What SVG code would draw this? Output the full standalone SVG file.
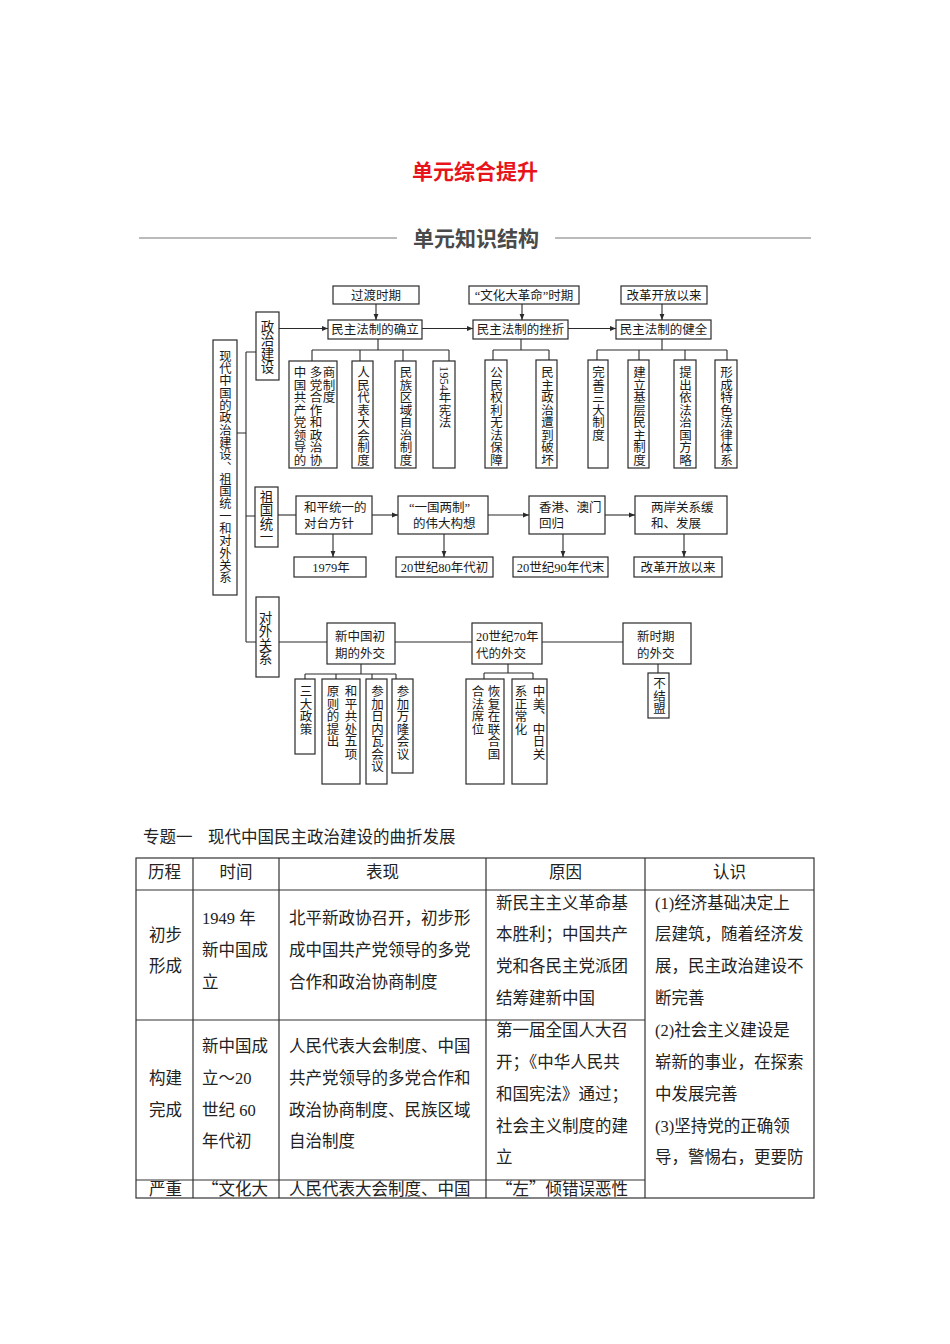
<svg xmlns="http://www.w3.org/2000/svg" width="950" height="1344" viewBox="0 0 950 1344">
<defs>
<style>
.t{font-family:"Liberation Serif","Noto Sans CJK SC",serif;font-size:12.5px;fill:#1a1a1a}
.c{text-anchor:middle}
.v{writing-mode:vertical-rl;font-family:"Liberation Serif","Noto Sans CJK SC",serif;font-size:12.5px;fill:#1a1a1a}
.vc{writing-mode:vertical-rl;font-family:"Liberation Serif","Noto Sans CJK SC",serif;font-size:13.5px;fill:#1a1a1a}
.b{fill:#fff;stroke:#2a2a2a;stroke-width:1.2}
.ln{fill:none;stroke:#2a2a2a;stroke-width:1.1}
.ar{fill:none;stroke:#2a2a2a;stroke-width:1.1;marker-end:url(#ah)}
.tb{font-family:"Liberation Serif","Noto Sans CJK SC",serif;font-size:16.5px;fill:#222}
.q{font-family:"Noto Sans CJK SC",sans-serif;font-feature-settings:"fwid" 1}
.tl{fill:none;stroke:#333;stroke-width:1.2}
</style>
<marker id="ah" markerWidth="6" markerHeight="6" refX="6" refY="3" orient="auto" markerUnits="userSpaceOnUse"><path d="M0,0.6 L6,3 L0,5.4 z" fill="#2a2a2a"/></marker>
</defs>
<rect width="950" height="1344" fill="#fff"/>

<g id="header">
<text x="475" y="178.5" text-anchor="middle" style="font-family:'Noto Sans CJK SC',sans-serif;font-size:21px;font-weight:bold;fill:#e8141b">单元综合提升</text>
<line x1="139" y1="238" x2="397" y2="238" stroke="#777" stroke-width="1"/>
<line x1="555" y1="238" x2="811" y2="238" stroke="#777" stroke-width="1"/>
<text x="476" y="245.5" text-anchor="middle" style="font-family:'Noto Sans CJK SC',sans-serif;font-size:21px;font-weight:bold;fill:#4a4a4a">单元知识结构</text>
</g>

<g id="connectors">
<path class="ln" d="M237,433 H246 M246,352 V642 M246,352 H256 M246,516 H255 M246,642 H256"/>
<path class="ar" d="M279,328.5 H328"/>
<path class="ar" d="M422,328.5 H473"/>
<path class="ar" d="M568,328.5 H616"/>
<path class="ar" d="M376,304 V320"/>
<path class="ar" d="M522,304 V320"/>
<path class="ar" d="M662,304 V320"/>
<path class="ln" d="M378,339 V350 M312,350 H449 M312,350 V361 M360,350 V361 M403,350 V361 M449,350 V361"/>
<path class="ln" d="M521,339 V350 M493,350 H549 M493,350 V360 M549,350 V360"/>
<path class="ln" d="M662,339 V350 M597,350 H727 M597,350 V360 M639,350 V360 M685,350 V360 M727,350 V360"/>
<path class="ln" d="M278,515 H296"/>
<path class="ar" d="M372,515 H398"/>
<path class="ar" d="M488,515 H529"/>
<path class="ar" d="M605,515 H635"/>
<path class="ar" d="M333,534 V557"/>
<path class="ar" d="M444,534 V557"/>
<path class="ar" d="M563,534 V557"/>
<path class="ar" d="M684,534 V557"/>
<path class="ln" d="M279,642 H327 M395,642 H472 M542,642 H623"/>
<path class="ln" d="M361,664 V674 M305,674 H396 M305,674 V679 M336,674 V679 M372,674 V679 M396,674 V679"/>
<path class="ln" d="M508,664 V673 M484,673 H533 M484,673 V679 M533,673 V679"/>
<path class="ln" d="M658,664 V673"/>
</g>

<g id="n-root"><rect class="b" x="213" y="340" width="24" height="255"/><text class="v" x="224.5" y="350" style="font-size:12.3px">现代中国的政治建设、祖国统一和对外关系</text></g>

<g id="n-zzjs"><rect class="b" x="256" y="312" width="23" height="68"/><text class="vc" x="266" y="320">政治建设</text></g>
<g id="n-zgty"><rect class="b" x="255" y="487" width="23" height="60"/><text class="vc" x="265" y="490">祖国统一</text></g>
<g id="n-dwgx"><rect class="b" x="256" y="597" width="23" height="80"/><text class="vc" x="264" y="611">对外关系</text></g>

<g id="n-gdsq"><rect class="b" x="333" y="286" width="86" height="18"/><text class="t c" x="376" y="299.5">过渡时期</text></g>
<g id="n-wgsq"><rect class="b" x="469" y="286" width="110" height="18"/><text class="t c" x="524" y="299.5">“文化大革命”时期</text></g>
<g id="n-ggkf1"><rect class="b" x="621" y="286" width="86" height="18"/><text class="t c" x="664" y="299.5">改革开放以来</text></g>

<g id="n-ql"><rect class="b" x="328" y="320" width="94" height="19"/><text class="t c" x="375" y="334">民主法制的确立</text></g>
<g id="n-cz"><rect class="b" x="473" y="320" width="95" height="19"/><text class="t c" x="520.5" y="334">民主法制的挫折</text></g>
<g id="n-jq"><rect class="b" x="616" y="320" width="95" height="19"/><text class="t c" x="663.5" y="334">民主法制的健全</text></g>

<g id="n-p1"><rect class="b" x="289" y="361" width="48" height="107"/><text class="v" x="298.5" y="366">中国共产党领导的</text><text class="v" x="314.5" y="366">多党合作和政治协</text><text class="v" x="327.5" y="366">商制度</text></g>
<g id="n-p2"><rect class="b" x="352" y="361" width="21" height="107"/><text class="v" x="362" y="366">人民代表大会制度</text></g>
<g id="n-p3"><rect class="b" x="395" y="361" width="21" height="107"/><text class="v" x="404.5" y="366">民族区域自治制度</text></g>
<g id="n-p4"><rect class="b" x="433" y="361" width="22" height="107"/><text class="v" x="443.5" y="366">1954年宪法</text></g>

<g id="n-c1"><rect class="b" x="485" y="360" width="22" height="108"/><text class="v" x="495" y="366">公民权利无法保障</text></g>
<g id="n-c2"><rect class="b" x="536" y="360" width="21" height="108"/><text class="v" x="546" y="366">民主政治遭到破坏</text></g>

<g id="n-j1"><rect class="b" x="588" y="360" width="20" height="108"/><text class="v" x="597" y="366">完善三大制度</text></g>
<g id="n-j2"><rect class="b" x="628" y="360" width="21" height="108"/><text class="v" x="638" y="366">建立基层民主制度</text></g>
<g id="n-j3"><rect class="b" x="674" y="360" width="22" height="108"/><text class="v" x="684" y="366">提出依法治国方略</text></g>
<g id="n-j4"><rect class="b" x="715" y="360" width="22" height="108"/><text class="v" x="725" y="366">形成特色法律体系</text></g>

<g id="n-u1"><rect class="b" x="296" y="496" width="76" height="38"/><text class="t" x="304" y="512">和平统一的</text><text class="t" x="304" y="528">对台方针</text></g>
<g id="n-u2"><rect class="b" x="398" y="496" width="90" height="38"/><text class="t" x="409" y="512">“一国两制”</text><text class="t" x="413" y="528">的伟大构想</text></g>
<g id="n-u3"><rect class="b" x="529" y="496" width="76" height="38"/><text class="t" x="539" y="512">香港、澳门</text><text class="t" x="539" y="528">回归</text></g>
<g id="n-u4"><rect class="b" x="635" y="496" width="92" height="38"/><text class="t" x="651" y="512">两岸关系缓</text><text class="t" x="651" y="528">和、发展</text></g>

<g id="n-d1"><rect class="b" x="294" y="557" width="72" height="20"/><text class="t c" x="331" y="571.5">1979年</text></g>
<g id="n-d2"><rect class="b" x="396" y="557" width="97" height="20"/><text class="t c" x="444.5" y="571.5">20世纪80年代初</text></g>
<g id="n-d3"><rect class="b" x="513" y="557" width="95" height="20"/><text class="t c" x="560.5" y="571.5">20世纪90年代末</text></g>
<g id="n-d4"><rect class="b" x="634" y="557" width="88" height="20"/><text class="t c" x="678" y="571.5">改革开放以来</text></g>

<g id="n-f1"><rect class="b" x="327" y="623" width="68" height="41"/><text class="t" x="335" y="641">新中国初</text><text class="t" x="335" y="658">期的外交</text></g>
<g id="n-f2"><rect class="b" x="472" y="623" width="70" height="41"/><text class="t" x="476" y="641">20世纪70年</text><text class="t" x="476" y="658">代的外交</text></g>
<g id="n-f3"><rect class="b" x="623" y="623" width="68" height="41"/><text class="t" x="637" y="641">新时期</text><text class="t" x="637" y="658">的外交</text></g>

<g id="n-f1a"><rect class="b" x="295" y="679" width="20" height="75"/><text class="v" x="304.5" y="685">三大政策</text></g>
<g id="n-f1b"><rect class="b" x="322" y="679" width="38" height="105"/><text class="v" x="331.5" y="685">原则的提出</text><text class="v" x="349.5" y="685">和平共处五项</text></g>
<g id="n-f1c"><rect class="b" x="366" y="679" width="21" height="105"/><text class="v" x="376" y="685">参加日内瓦会议</text></g>
<g id="n-f1d"><rect class="b" x="392" y="679" width="21" height="94"/><text class="v" x="401.5" y="685">参加万隆会议</text></g>
<g id="n-f2a"><rect class="b" x="466" y="679" width="38" height="105"/><text class="v" x="476.5" y="685">合法席位</text><text class="v" x="492.5" y="685">恢复在联合国</text></g>
<g id="n-f2b"><rect class="b" x="512" y="679" width="35" height="105"/><text class="v" x="519.5" y="685">系正常化</text><text class="v" x="537.5" y="685">中美、中日关</text></g>
<g id="n-f3a"><rect class="b" x="648" y="673" width="21" height="45"/><text class="v" x="658" y="677">不结盟</text></g>

<g id="table">
<text class="tb" x="143" y="843">专题一</text>
<text class="tb" x="208" y="843">现代中国民主政治建设的曲折发展</text>
<rect class="tl" x="136" y="858" width="678" height="340"/>
<path class="tl" d="M193,858 V1198 M279,858 V1198 M486,858 V1198 M645,858 V1198 M136,890 H814 M136,1020 H645 M136,1180 H645"/>
<text class="tb c" x="164.5" y="878">历程</text>
<text class="tb c" x="236" y="878">时间</text>
<text class="tb c" x="382.5" y="878">表现</text>
<text class="tb c" x="565.5" y="878">原因</text>
<text class="tb c" x="729.5" y="878">认识</text>

<text class="tb" x="149" y="941">初步</text>
<text class="tb" x="149" y="972">形成</text>
<text class="tb" x="202" y="924">1949 年</text>
<text class="tb" x="202" y="956">新中国成</text>
<text class="tb" x="202" y="988">立</text>
<text class="tb" x="289" y="924">北平新政协召开，初步形</text>
<text class="tb" x="289" y="956">成中国共产党领导的多党</text>
<text class="tb" x="289" y="988">合作和政治协商制度</text>
<text class="tb" x="496" y="909">新民主主义革命基</text>
<text class="tb" x="496" y="940">本胜利；中国共产</text>
<text class="tb" x="496" y="972">党和各民主党派团</text>
<text class="tb" x="496" y="1004">结筹建新中国</text>
<text class="tb" x="655" y="909">(1)经济基础决定上</text>
<text class="tb" x="655" y="940">层建筑，随着经济发</text>
<text class="tb" x="655" y="972">展，民主政治建设不</text>
<text class="tb" x="655" y="1004">断完善</text>

<text class="tb" x="149" y="1084">构建</text>
<text class="tb" x="149" y="1116">完成</text>
<text class="tb" x="202" y="1052">新中国成</text>
<text class="tb" x="202" y="1084">立～20</text>
<text class="tb" x="202" y="1116">世纪 60</text>
<text class="tb" x="202" y="1147">年代初</text>
<text class="tb" x="289" y="1052">人民代表大会制度、中国</text>
<text class="tb" x="289" y="1084">共产党领导的多党合作和</text>
<text class="tb" x="289" y="1116">政治协商制度、民族区域</text>
<text class="tb" x="289" y="1147">自治制度</text>
<text class="tb" x="496" y="1036">第一届全国人大召</text>
<text class="tb" x="496" y="1068">开；《中华人民共</text>
<text class="tb" x="496" y="1100">和国宪法》通过；</text>
<text class="tb" x="496" y="1132">社会主义制度的建</text>
<text class="tb" x="496" y="1163">立</text>
<text class="tb" x="655" y="1036">(2)社会主义建设是</text>
<text class="tb" x="655" y="1068">崭新的事业，在探索</text>
<text class="tb" x="655" y="1100">中发展完善</text>
<text class="tb" x="655" y="1132">(3)坚持党的正确领</text>
<text class="tb" x="655" y="1163">导，警惕右，更要防</text>

<text class="tb" x="149" y="1195">严重</text>
<text class="tb" x="202" y="1195"><tspan class="q">“</tspan>文化大</text>
<text class="tb" x="289" y="1195">人民代表大会制度、中国</text>
<text class="tb" x="496" y="1195"><tspan class="q">“</tspan>左<tspan class="q">”</tspan>倾错误恶性</text>
</g>
</svg>
